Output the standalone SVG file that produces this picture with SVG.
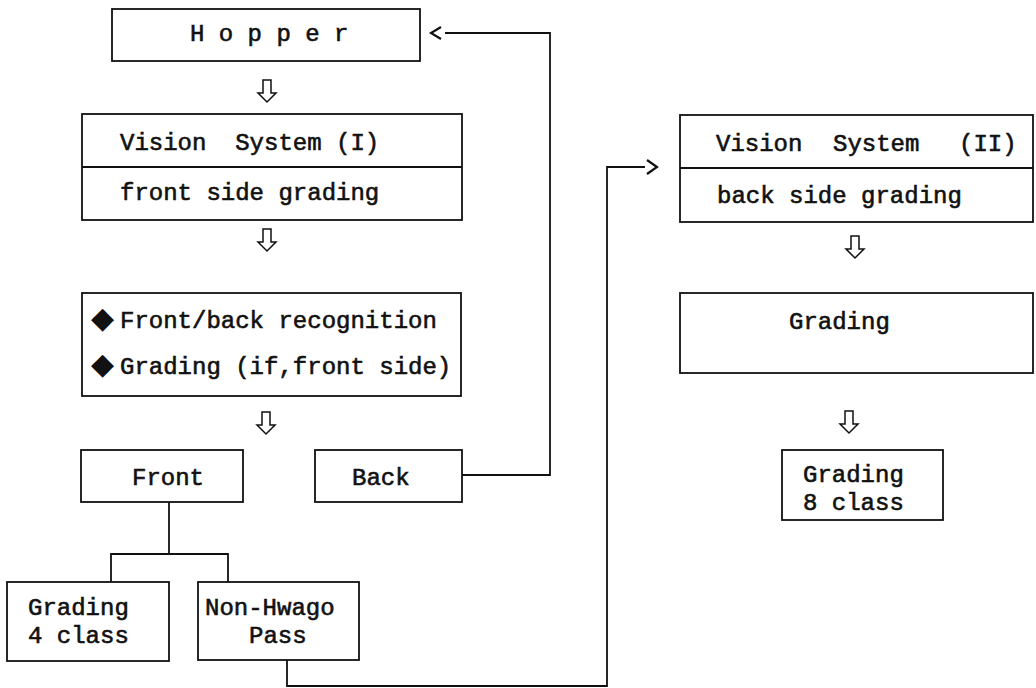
<svg xmlns="http://www.w3.org/2000/svg" width="1036" height="688" viewBox="0 0 1036 688">
  <style>
    .box { fill: #fff; stroke: #111; stroke-width: 1.8; }
    .div { stroke: #111; stroke-width: 1.8; }
    .t { font-family: "Liberation Mono", "Courier New", monospace; font-size: 24px; fill: #111; stroke: #111; stroke-width: 0.6; white-space: pre; }
    .wire { fill: none; stroke: #111; stroke-width: 1.8; }
    .chev { fill: none; stroke: #111; stroke-width: 2.2; }
    .flow { fill: #fff; stroke: #111; stroke-width: 1.5; stroke-linejoin: miter; }
  </style>
  <defs>
    <!-- hollow down arrow between stages -->
    <path id="down" d="M -4 0 H 4 V 13 H 9 L 0 22 L -9 13 H -4 Z"/>
  </defs>
  <rect width="1036" height="688" fill="#fff"/>

  <g id="connectors">
    <!-- Back -> Hopper return path -->
    <polyline class="wire" points="462,475 550,475 550,33 445,33"/>
    <polyline class="chev" points="441,27 431,33 441,39"/>
    <!-- Non-Hwago Pass -> Vision System (II) -->
    <polyline class="wire" points="287,660 287,686 607,686 607,167 645,167"/>
    <polyline class="chev" points="647,160 657,167 647,174"/>
    <!-- Front branches -->
    <polyline class="wire" points="169,502 169,554"/>
    <polyline class="wire" points="111,582 111,554 228,554 228,582"/>
    <!-- stage arrows -->
    <use href="#down" class="flow" x="267" y="80"/>
    <use href="#down" class="flow" x="267" y="229"/>
    <use href="#down" class="flow" x="266" y="412"/>
    <use href="#down" class="flow" x="855" y="236"/>
    <use href="#down" class="flow" x="849" y="411"/>
  </g>

  <g id="hopper">
    <rect class="box" x="112" y="9" width="308" height="52"/>
    <text class="t" x="190" y="41">H o p p e r</text>
  </g>

  <g id="vision-system-1">
    <rect class="box" x="82" y="114" width="380" height="106"/>
    <line class="div" x1="82" y1="167" x2="462" y2="167"/>
    <text class="t" x="120" y="150">Vision  System (I)</text>
    <text class="t" x="120" y="200">front side grading</text>
  </g>

  <g id="recognition">
    <rect class="box" x="82" y="293" width="379" height="103"/>
    <text class="t" y="328"><tspan x="91" font-size="30" font-family="DejaVu Sans, sans-serif" stroke-width="0">◆</tspan><tspan x="120">Front/back recognition</tspan></text>
    <text class="t" y="374"><tspan x="91" font-size="30" font-family="DejaVu Sans, sans-serif" stroke-width="0">◆</tspan><tspan x="120">Grading (if,front side)</tspan></text>
  </g>

  <g id="front">
    <rect class="box" x="81" y="450" width="162" height="52"/>
    <text class="t" x="132" y="485">Front</text>
  </g>

  <g id="back">
    <rect class="box" x="315" y="450" width="147" height="52"/>
    <text class="t" x="352" y="485">Back</text>
  </g>

  <g id="grading-4">
    <rect class="box" x="7" y="582" width="162" height="79"/>
    <text class="t" x="28" y="615">Grading</text>
    <text class="t" x="28" y="643">4 class</text>
  </g>

  <g id="non-hwago">
    <rect class="box" x="198" y="582" width="161" height="78"/>
    <text class="t" x="205" y="615">Non-Hwago</text>
    <text class="t" x="249" y="643">Pass</text>
  </g>

  <g id="vision-system-2">
    <rect class="box" x="680" y="115" width="353" height="107"/>
    <line class="div" x1="680" y1="168" x2="1033" y2="168"/>
    <text class="t" y="151"><tspan x="716">Vision</tspan><tspan x="833">System</tspan><tspan x="959">(II)</tspan></text>
    <text class="t" x="717" y="203">back side grading</text>
  </g>

  <g id="grading-back">
    <rect class="box" x="680" y="293" width="353" height="80"/>
    <text class="t" x="789" y="329">Grading</text>
  </g>

  <g id="grading-8">
    <rect class="box" x="782" y="450" width="161" height="70"/>
    <text class="t" x="803" y="482">Grading</text>
    <text class="t" x="803" y="510">8 class</text>
  </g>
</svg>
